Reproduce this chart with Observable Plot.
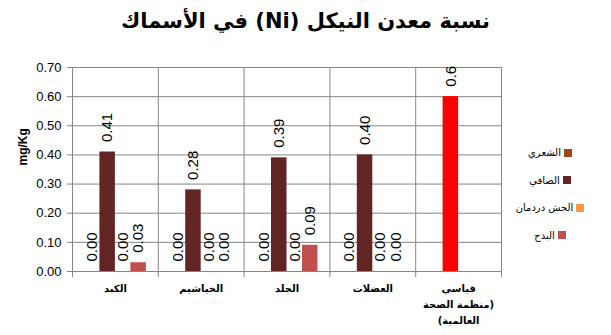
<!DOCTYPE html>
<html>
<head>
<meta charset="utf-8">
<script src="https://cdn.jsdelivr.net/npm/d3@7"></script>
<script src="https://cdn.jsdelivr.net/npm/@observablehq/plot@0.6"></script>
<style>
  html, body { margin: 0; padding: 0; background: #fff; }
  #wrap { position: relative; width: 611px; height: 335px; overflow: hidden; font-family: "Liberation Sans", "DejaVu Sans", sans-serif; }
  #title { position: absolute; left: 0; width: 611px; top: 9px; text-align: center; direction: rtl;
           font-family: "DejaVu Sans", sans-serif; font-weight: bold; font-size: 21px; color: #000; }
  #chart { position: absolute; left: 0; top: 0; }
  #legend { position: absolute; left: 505px; top: 139px; width: 90px; font-family: "DejaVu Sans", sans-serif; font-size: 10px; color: #000; }
  .row { display: flex; justify-content: center; align-items: center; height: 27.5px; direction: ltr; }
  .sw { width: 8px; height: 8px; margin-left: 3px; }
</style>
</head>
<body>
<div id="wrap">
  <div id="chart"></div>
  <div id="title">نسبة معدن النيكل (Ni) في الأسماك</div>
  <div id="legend"></div>
</div>
<script>
// last label: parentheses placed so that the RTL rendering shows "(" at the left of line 2 and ")" at the right of line 3, as in the original
const categories = ["الكبد", "الخياشيم", "الجلد", "العضلات", "قياسي\nمنظمة الصحة)\n(العالمية"];
const series = ["الشعري", "الصافي", "الجش دردمان", "البدح"];
const seriesColors = ["#9C4A10", "#632523", "#F79646", "#C0504D"];
// values[series][category] for the first four categories
const values = [
  [0.00, 0.00, 0.00, 0.00],
  [0.41, 0.28, 0.39, 0.40],
  [0.00, 0.00, 0.00, 0.00],
  [0.03, 0.00, 0.09, 0.00]
];
const standardValue = 0.6;
const standardLabel = "0.6";
const standardColor = "#FF0000";
const standardSlot = 1;
const yTicks = [0, 0.1, 0.2, 0.3, 0.4, 0.5, 0.6, 0.7];
const yLabel = "mg/Kg";

const pad = 0.77;              // outer padding of a group, in bar widths
const G = series.length + 2 * pad; // group width in bar units
const gridColor = "#868686";

const rows = [];
for (let s = 0; s < series.length; s++) {
  for (let g = 0; g < values[s].length; g++) {
    rows.push({g, s, v: values[s][g], label: values[s][g].toFixed(2), color: seriesColors[s]});
  }
}
rows.push({g: categories.length - 1, s: standardSlot, v: standardValue, label: standardLabel, color: standardColor});

const x1 = d => d.g * G + pad + d.s;
const xc = d => d.g * G + pad + d.s + 0.5;
const boundaries = d3.range(categories.length + 1).map(i => i * G);

const plot = Plot.plot({
  width: 611,
  height: 335,
  marginTop: 67,
  marginBottom: 64,
  marginLeft: 72,
  marginRight: 110,
  style: {fontFamily: "'Liberation Sans', 'DejaVu Sans', sans-serif", background: "transparent"},
  x: {type: "linear", domain: [0, categories.length * G], axis: null},
  y: {domain: [0, 0.7], axis: null},
  color: {type: "identity"},
  marks: [
    Plot.ruleY(yTicks, {stroke: gridColor, strokeWidth: 1}),
    Plot.ruleX(boundaries, {stroke: gridColor, strokeWidth: 1, insetBottom: -6}),
    Plot.axisY(yTicks, {tickFormat: d3.format(".2f"), tickSize: 5, tickPadding: 6, fontSize: 13, stroke: gridColor, fill: "#000", label: null}),
    Plot.rectY(rows, {x1: x1, x2: d => x1(d) + 1, y: "v", fill: "color"}),
    Plot.text(rows, {x: xc, y: "v", text: "label", rotate: -90, textAnchor: "start", dy: -10, fontSize: 15, fill: "#000"}),
    Plot.text(categories, {x: (d, i) => (i + 0.5) * G, frameAnchor: "bottom", lineAnchor: "top", dy: 9, text: d => d, fontSize: 10, fontWeight: "bold", lineHeight: 1.6, fontFamily: "DejaVu Sans", fill: "#000"}),
    Plot.text([yLabel], {frameAnchor: "left", text: d => d, rotate: -90, dx: -49, dy: -4, fontSize: 12, fontWeight: "bold", fill: "#000"})
  ]
});
document.getElementById("chart").appendChild(plot);

const legend = document.getElementById("legend");
series.forEach((name, i) => {
  const row = document.createElement("div");
  row.className = "row";
  const t = document.createElement("span");
  t.textContent = name;
  t.dir = "rtl";
  const sw = document.createElement("span");
  sw.className = "sw";
  sw.style.background = seriesColors[i];
  row.appendChild(t);
  row.appendChild(sw);
  legend.appendChild(row);
});
</script>
</body>
</html>
